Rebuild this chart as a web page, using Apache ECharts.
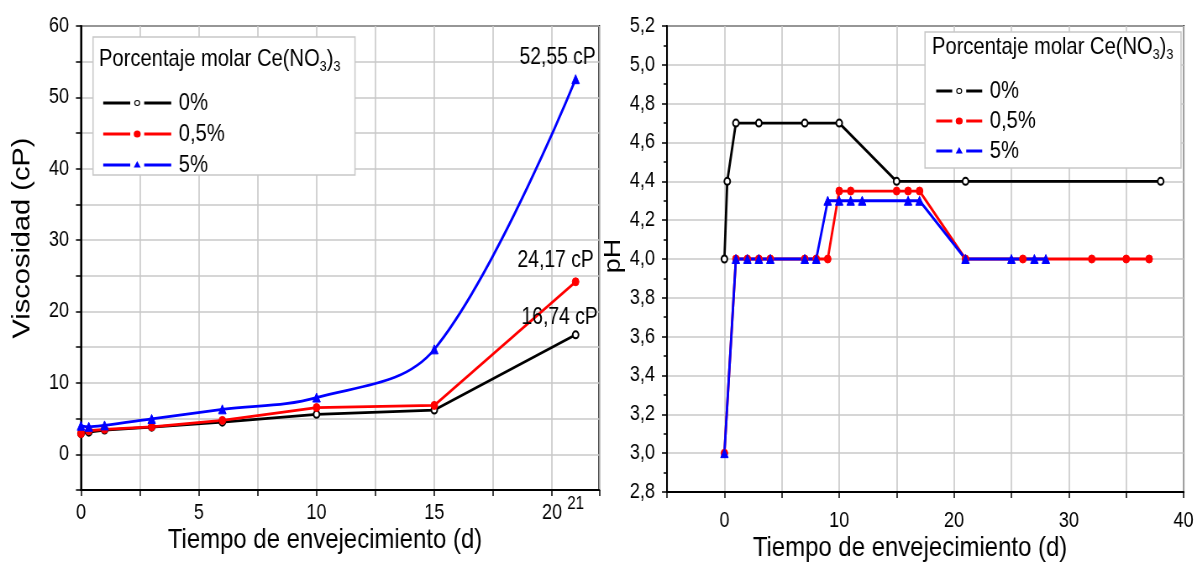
<!DOCTYPE html>
<html>
<head>
<meta charset="utf-8">
<script src="https://cdn.jsdelivr.net/npm/echarts@6/dist/echarts.min.js"></script>
<style>
  html, body { margin: 0; padding: 0; background: #fff; overflow: hidden; }
  #frame { width: 1196px; height: 563px; overflow: hidden; position: relative; }
  /* the figure is laid out wide and then condensed horizontally */
  #chart { position: absolute; left: 0; top: 0; height: 563px; transform-origin: 0 0; }
</style>
</head>
<body>
<div id="frame"><div id="chart"></div></div>
<script>
// Viscosity vs. aging time (left panel)
const viscDays = [0, 0.33, 1, 3, 6, 10, 15, 21];
const visc0    = [2.9, 3.1, 3.4, 3.8, 4.5, 5.6, 6.2, 16.74];
const viscHalf = [2.9, 3.3, 3.5, 3.85, 4.75, 6.55, 6.85, 24.17];
const visc5    = [4.0, 3.85, 4.05, 4.95, 6.3, 7.95, 14.7, 52.55];

// pH vs. aging time (right panel)
const phDays0    = [0, 0.25, 1, 3, 7, 10, 15, 21, 38];
const ph0        = [4.0, 4.4, 4.7, 4.7, 4.7, 4.7, 4.4, 4.4, 4.4];
const phDaysHalf = [0, 1, 2, 3, 4, 7, 8, 9, 10, 11, 15, 16, 17, 21, 26, 32, 35, 37];
const phHalf     = [3.0, 4.0, 4.0, 4.0, 4.0, 4.0, 4.0, 4.0, 4.35, 4.35, 4.35, 4.35, 4.35, 4.0, 4.0, 4.0, 4.0, 4.0];
const phDays5    = [0, 1, 2, 3, 4, 7, 8, 9, 10, 11, 12, 16, 17, 21, 25, 27, 28];
const ph5        = [3.0, 4.0, 4.0, 4.0, 4.0, 4.0, 4.0, 4.3, 4.3, 4.3, 4.3, 4.3, 4.3, 4.0, 4.0, 4.0, 4.0];

const seriesNames = ['0%', '0,5%', '5%'];
const legendTitle = 'Porcentaje molar Ce(NO3)3';
const xTitle = 'Tiempo de envejecimiento (d)';
const yTitleVisc = 'Viscosidad (cP)';
const yTitlePh = 'pH';
const extraDayTick = 21;

// horizontal condensing factor of the whole figure
const SX = 0.84;
const W = 1196, H = 563;
const px = v => v / SX;   // final horizontal pixels -> layout pixels

const chartEl = document.getElementById('chart');
chartEl.style.width = px(W) + 'px';
chartEl.style.transform = 'scaleX(' + SX + ')';

const FONT = '"Liberation Sans", Arial, Helvetica, sans-serif';
const GRID_COLOR = '#c8c8c8';

const comma = (v, d) => v.toFixed(d).replace('.', ',');
const pairs = (xs, ys) => xs.map((x, i) => [x, ys[i]]);

// mark the final point of a viscosity series with its value
function withEndLabel(xs, ys, offset) {
  const data = pairs(xs, ys);
  const last = data.length - 1;
  data[last] = {
    value: data[last],
    label: {
      show: true, position: 'top', offset: [px(offset[0]), offset[1]],
      formatter: p => comma(p.value[1], 2) + ' cP',
      color: '#000', fontFamily: FONT, fontSize: 23
    }
  };
  return data;
}

const baseAxis = {
  axisLine: { show: true, onZero: false, lineStyle: { color: '#000', width: 2 } },
  axisTick: { show: true, length: 6, lineStyle: { color: '#000', width: 1.5 } },
  axisLabel: { color: '#000', fontFamily: FONT, fontSize: 21.5 },
  splitLine: { show: true, lineStyle: { color: GRID_COLOR, width: 1.6 } }
};

const styles = [
  { color: '#000000', symbol: 'emptyCircle', symbolSize: 7 },
  { color: '#ff0000', symbol: 'circle', symbolSize: 8 },
  { color: '#0000ff', symbol: 'triangle', symbolSize: 9 }
];

function lineSeries(idx, axisIdx, data, extra) {
  const s = styles[idx];
  return Object.assign({
    type: 'line',
    name: seriesNames[idx],
    xAxisIndex: axisIdx, yAxisIndex: axisIdx,
    data: data,
    symbol: s.symbol, symbolSize: s.symbolSize,
    showAllSymbol: true,
    itemStyle: { color: s.color, borderColor: s.color, borderWidth: 1 },
    lineStyle: { color: s.color, width: 2.8 },
    emphasis: { disabled: true },
    animation: false,
    z: 3
  }, extra || {});
}

// legend keys: dash, marker, dash (drawn in a w x 9 box)
function keyPath(kind, w) {
  const c = w / 2, y0 = 3.0, y1 = 6.0, g = 7;
  const dashes = `M0,${y0} L${c - g},${y0} L${c - g},${y1} L0,${y1} Z ` +
                 `M${c + g},${y0} L${w},${y0} L${w},${y1} L${c + g},${y1} Z `;
  let mark;
  if (kind === 0) {
    mark = `M${c - 3},4.5 A3,3 0 1,0 ${c + 3},4.5 A3,3 0 1,0 ${c - 3},4.5 Z ` +
           `M${c - 2},4.5 A2,2 0 1,1 ${c + 2},4.5 A2,2 0 1,1 ${c - 2},4.5 Z `;
  } else if (kind === 1) {
    mark = `M${c - 3.5},4.5 A3.5,3.5 0 1,0 ${c + 3.5},4.5 A3.5,3.5 0 1,0 ${c - 3.5},4.5 Z `;
  } else {
    mark = `M${c},0.5 L${c + 3.5},7 L${c - 3.5},7 Z `;
  }
  // tiny corner specks so every key spans the same box
  return 'path://' + dashes + mark + `M0,0 L0.01,0 L0.01,0.01 Z M${w},9 L${w - 0.01},9 L${w},8.99 Z`;
}

function legendSpec(left, top, keyW, gap) {
  return {
    left: px(left), top: top, orient: 'vertical',
    itemWidth: px(keyW), itemHeight: 9, itemGap: gap,
    symbolKeepAspect: false,
    itemStyle: { borderWidth: 0 },
    data: seriesNames.map((n, i) => ({ name: n, icon: keyPath(i, keyW) })),
    textStyle: { color: '#000', fontFamily: FONT, fontSize: 24, lineHeight: 24, padding: [0, 0, 0, 4] },
    selectedMode: false, z: 60
  };
}

const chart = echarts.init(chartEl, null, { renderer: 'canvas' });

const option = {
  backgroundColor: '#fff',
  animation: false,
  grid: [
    { left: px(81), right: px(W - 599), top: 26, bottom: 73, show: true, borderColor: '#000', borderWidth: 2 },
    { left: px(667), right: px(11), top: 26, bottom: 71, show: true, borderColor: '#000', borderWidth: 2 }
  ],
  xAxis: [
    Object.assign({}, baseAxis, {
      type: 'value', gridIndex: 0, min: 0, max: 22, interval: 2.5,
      axisLabel: Object.assign({}, baseAxis.axisLabel, {
        margin: 12,
        formatter: v => (Math.abs(v % 5) < 1e-9 ? String(v) : '')
      })
    }),
    Object.assign({}, baseAxis, {
      type: 'value', gridIndex: 1, min: -5, max: 40, interval: 5,
      axisLabel: Object.assign({}, baseAxis.axisLabel, {
        margin: 18,
        formatter: v => (Math.abs(v % 10) < 1e-9 ? String(v) : '')
      })
    })
  ],
  yAxis: [
    Object.assign({}, baseAxis, {
      type: 'value', gridIndex: 0, min: -5, max: 60, interval: 5,
      axisLabel: Object.assign({}, baseAxis.axisLabel, {
        margin: px(12),
        formatter: v => (Math.abs(v % 10) < 1e-9 ? String(v) : '')
      })
    }),
    Object.assign({}, baseAxis, {
      type: 'value', gridIndex: 1, min: 2.8, max: 5.2, interval: 0.2,
      minorTick: { show: true, splitNumber: 2, length: 4, lineStyle: { color: '#000', width: 1.5 } },
      axisLabel: Object.assign({}, baseAxis.axisLabel, {
        margin: px(12),
        formatter: v => comma(v, 1)
      })
    })
  ],
  legend: [
    legendSpec(99, 86, 68, 7),
    legendSpec(932, 74, 46, 6)
  ],
  series: [
    lineSeries(0, 0, withEndLabel(viscDays, visc0, [-16, 4])),
    lineSeries(1, 0, withEndLabel(viscDays, viscHalf, [-20, 0])),
    lineSeries(2, 0, withEndLabel(viscDays, visc5, [-18, 0]), { smooth: 0.35 }),
    lineSeries(0, 1, pairs(phDays0, ph0)),
    lineSeries(1, 1, pairs(phDaysHalf, phHalf)),
    lineSeries(2, 1, pairs(phDays5, ph5))
  ]
};

chart.setOption(option);

// subscripted legend heading, e.g. Ce(NO3)3
function headingRich(text) {
  const m = text.match(/^(.*\(NO)(\d)\)(\d)$/);
  return '{a|' + m[1] + '}{s|' + m[2] + '}{a|)}{s|' + m[3] + '}';
}

function legendBox(x, y, w, h, tx, ty) {
  return [
    { type: 'rect', z: 50, shape: { x: px(x), y: y, width: px(w), height: h },
      style: { fill: '#fff', stroke: GRID_COLOR, lineWidth: 1.5 } },
    { type: 'text', z: 61, x: px(tx), y: ty,
      style: {
        text: headingRich(legendTitle), fill: '#000', textVerticalAlign: 'middle',
        rich: {
          a: { fontFamily: FONT, fontSize: 24, fill: '#000' },
          s: { fontFamily: FONT, fontSize: 15, fill: '#000', padding: [16, 0, 0, 0] }
        }
      } }
  ];
}

const tickX = chart.convertToPixel({ xAxisIndex: 0 }, extraDayTick);

chart.setOption({
  graphic: [
    ...legendBox(93, 37, 262, 138, 99, 59),
    ...legendBox(925, 32, 256, 136, 932, 47),
    { type: 'text', z: 61, x: tickX, y: 504,
      style: { text: String(extraDayTick), fontFamily: FONT, fontSize: 18, fill: '#000',
               textAlign: 'center', textVerticalAlign: 'middle' } },
    { type: 'text', z: 61, x: px(325), y: 540,
      style: { text: xTitle, fontFamily: FONT, fontSize: 28.5, fill: '#000',
               textAlign: 'center', textVerticalAlign: 'middle' } },
    { type: 'text', z: 61, x: px(910), y: 548,
      style: { text: xTitle, fontFamily: FONT, fontSize: 28.5, fill: '#000',
               textAlign: 'center', textVerticalAlign: 'middle' } },
    { type: 'text', z: 61, x: px(23), y: 238, rotation: Math.PI / 2,
      style: { text: yTitleVisc, fontFamily: FONT, fontSize: 29, fill: '#000',
               textAlign: 'center', textVerticalAlign: 'middle' } },
    { type: 'text', z: 61, x: px(614), y: 256, rotation: Math.PI / 2,
      style: { text: yTitlePh, fontFamily: FONT, fontSize: 27, fill: '#000',
               textAlign: 'center', textVerticalAlign: 'middle' } }
  ]
});
</script>
</body>
</html>
